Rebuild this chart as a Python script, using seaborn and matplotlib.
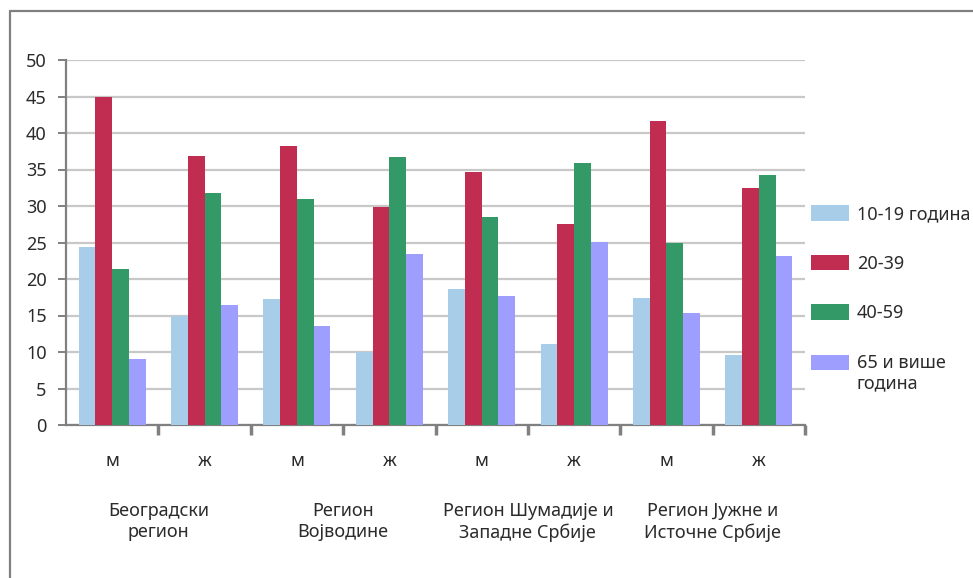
import pandas as pd
import matplotlib
matplotlib.use("Agg")
import matplotlib.pyplot as plt
import matplotlib.transforms as mtransforms
from matplotlib.lines import Line2D
import seaborn as sns

# data
regions = ["Београдски\nрегион", "Регион\nВојводине",
           "Регион Шумадије и\nЗападне Србије", "Регион Јужне и\nИсточне Србије"]
sexes = ["м", "ж"]
age_groups = ["10-19 година", "20-39", "40-59", "65 и више\nгодина"]

age_10_19 = [24.4, 15.0, 17.2, 10.0, 18.6, 11.1, 17.4, 9.6]
age_20_39 = [44.9, 36.9, 38.2, 29.9, 34.7, 27.5, 41.6, 32.4]
age_40_59 = [21.4, 31.8, 30.9, 36.7, 28.5, 35.9, 25.0, 34.3]
age_65_up = [9.1, 16.4, 13.6, 23.4, 17.7, 25.1, 15.4, 23.1]

colors = ["#a7cde8", "#c02d50", "#339966", "#9e9efe"]

rows = []
for age, vals in zip(age_groups, [age_10_19, age_20_39, age_40_59, age_65_up]):
    for i, v in enumerate(vals):
        rows.append({"group": i, "age": age, "value": v})
df = pd.DataFrame(rows)

sns.set_style("white")
plt.rcParams["font.family"] = ["Noto Sans", "DejaVu Sans"]
text_color = "#2b2b2b"

fig = plt.figure(figsize=(9.73, 5.78), dpi=100)
ax = fig.add_axes([66 / 973, 1 - 425 / 578, (805 - 66) / 973, (425 - 60) / 578])

sns.barplot(data=df, x="group", y="value", hue="age", hue_order=age_groups,
            palette=colors, width=0.725, gap=0, linewidth=0, saturation=1,
            errorbar=None, ax=ax, zorder=3)

ax.set_ylim(0, 50)
ax.set_xlim(-0.5, 7.5)
ax.set_yticks(range(0, 51, 5))
ax.yaxis.grid(True, color="#c8c8c8", linewidth=1.6, zorder=0)
ax.set_axisbelow(True)
ax.set_xlabel("")
ax.set_ylabel("")

for side in ["top", "right"]:
    ax.spines[side].set_visible(False)
for side in ["left", "bottom"]:
    ax.spines[side].set_color("#808080")
    ax.spines[side].set_linewidth(1.6)

ax.tick_params(axis="y", which="major", left=True, length=6, width=1.4,
               color="#808080", labelsize=13, labelcolor=text_color, pad=8)
# boundary ticks between the columns
ax.set_xticks([i + 0.5 for i in range(8)])
ax.set_xticklabels([])
ax.tick_params(axis="x", which="major", bottom=True, length=7, width=2.5,
               color="#808080")

trans = mtransforms.blended_transform_factory(ax.transData, ax.transAxes)
for i in range(8):
    ax.text(i, -0.1, sexes[i % 2], transform=trans, ha="center", va="center",
            fontsize=13, color=text_color)
for j, reg in enumerate(regions):
    ax.text(2 * j + 0.5, -0.265, reg, transform=trans, ha="center", va="center",
            fontsize=13, color=text_color, linespacing=1.25)

handles, labels = ax.get_legend_handles_labels()
leg = ax.legend(handles, labels, loc="upper left",
                bbox_to_anchor=(804 / 973, 1 - 198 / 578),
                bbox_transform=fig.transFigure, frameon=False, fontsize=13,
                handlelength=2.1, handleheight=0.95, handletextpad=0.42,
                labelspacing=1.75, labelcolor=text_color, borderaxespad=0)
# keep the last swatch level with the first line of its two-line label
last_patch = leg.get_patches()[-1]
last_patch.set_y(last_patch.get_y() + 8.5)

# outer frame (top and left edges visible)
frame_color = "#808080"
fig.add_artist(Line2D([10 / 973, 10 / 973], [0, 1 - 11 / 578],
                      transform=fig.transFigure, color=frame_color, linewidth=1.6))
fig.add_artist(Line2D([10 / 973, 1], [1 - 11 / 578, 1 - 11 / 578],
                      transform=fig.transFigure, color=frame_color, linewidth=1.6))

fig.savefig("out.png", dpi=100)
plt.close(fig)
